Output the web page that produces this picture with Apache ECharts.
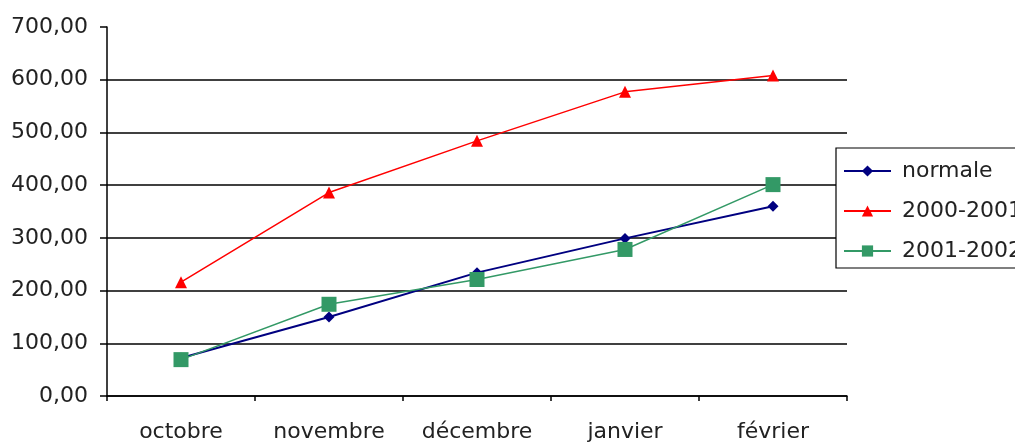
<!DOCTYPE html>
<html>
<head>
<meta charset="utf-8">
<script src="https://cdn.jsdelivr.net/npm/echarts@6/dist/echarts.min.js"></script>
<style>
  html, body { margin: 0; padding: 0; background: #fff; }
  #chart { width: 1015px; height: 443px; }
</style>
</head>
<body>
<div id="chart"></div>
<script>
// Cumulative values per month
const months = ['octobre', 'novembre', 'décembre', 'janvier', 'février'];
const normale = [72, 150, 234, 299, 360];
const saison2000 = [216, 386, 484, 577, 608];
const saison2001 = [69, 174, 221, 278, 401];
const seriesNames = ['normale', '2000-2001', '2001-2002'];

const FONT = 'DejaVu Sans';
const TXT = '#222222';

const chart = echarts.init(document.getElementById('chart'), null, { renderer: 'canvas' });

chart.setOption({
  animation: false,
  backgroundColor: '#ffffff',
  grid: { left: 107, right: 168, top: 27, bottom: 46, containLabel: false },
  legend: {
    orient: 'vertical',
    left: 836,
    top: 148,
    padding: [12, 10, 6, 7],
    itemWidth: 47,
    itemHeight: 14,
    itemGap: 18,
    borderColor: '#000',
    borderWidth: 1.2,
    backgroundColor: '#fff',
    textStyle: { fontFamily: FONT, fontSize: 22, color: TXT, lineHeight: 22, padding: [0, 0, 0, 6] },
    data: seriesNames
  },
  xAxis: {
    type: 'category',
    data: months,
    boundaryGap: true,
    axisLine: { lineStyle: { color: '#000', width: 1.5 } },
    axisTick: { show: true, interval: 0, length: 5, lineStyle: { color: '#000', width: 1.5 } },
    axisLabel: { fontFamily: FONT, fontSize: 22, color: TXT, margin: 25, interval: 0 },
    splitLine: { show: false }
  },
  yAxis: {
    type: 'value',
    min: 0,
    max: 700,
    interval: 100,
    axisLine: { show: true, lineStyle: { color: '#000', width: 1.5 } },
    axisTick: { show: true, length: 7, lineStyle: { color: '#000', width: 1.5 } },
    axisLabel: {
      fontFamily: FONT, fontSize: 22, color: TXT, margin: 19,
      formatter: v => v.toFixed(2).replace('.', ',')
    },
    splitLine: {
      show: true,
      lineStyle: {
        color: ['#000', '#000', '#000', '#000', '#000', '#000', '#000', 'rgba(0,0,0,0)'],
        width: 1.5
      }
    }
  },
  series: [
    {
      name: 'normale', type: 'line', data: normale,
      symbol: 'diamond', symbolSize: 11,
      itemStyle: { color: '#000080' },
      lineStyle: { color: '#000080', width: 2 },
      z: 3
    },
    {
      name: '2000-2001', type: 'line', data: saison2000,
      symbol: 'triangle', symbolSize: 12,
      itemStyle: { color: '#ff0000' },
      lineStyle: { color: '#ff0000', width: 1.5 },
      z: 2
    },
    {
      name: '2001-2002', type: 'line', data: saison2001,
      symbol: 'rect', symbolSize: 15,
      itemStyle: { color: '#339966' },
      lineStyle: { color: '#339966', width: 1.5 },
      z: 4
    }
  ]
});
</script>
</body>
</html>
